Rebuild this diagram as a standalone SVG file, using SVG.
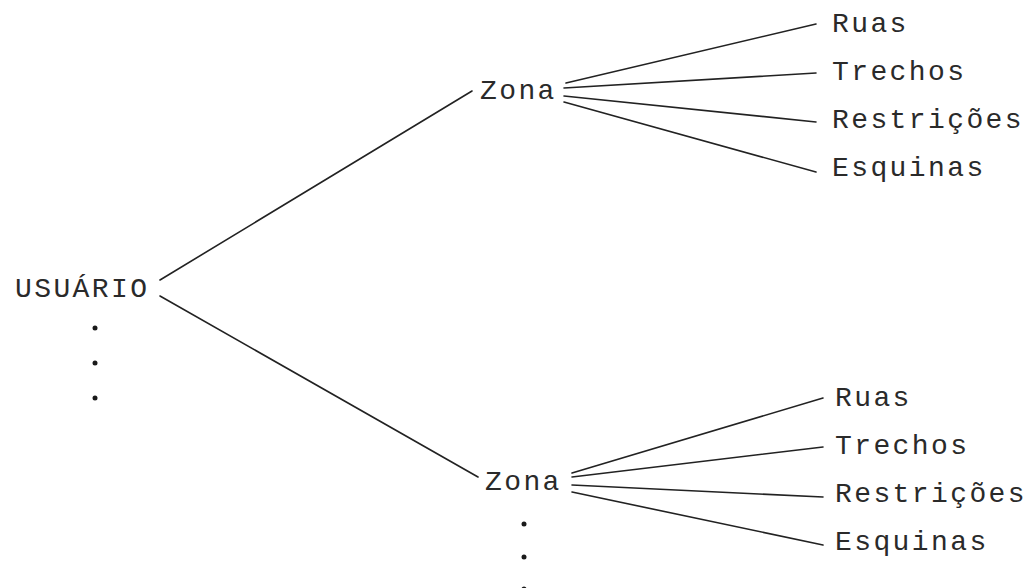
<svg xmlns="http://www.w3.org/2000/svg" width="1029" height="588" viewBox="0 0 1029 588">
<style>
text{font-family:"Liberation Mono","Courier New",monospace;font-size:28px;letter-spacing:2.4px;fill:#2a2a2a}
.c line{stroke:#222;stroke-width:1.6;stroke-linecap:round}
.dot{fill:#1a1a1a}
</style>
<rect width="1029" height="588" fill="#ffffff"/>
<g class="c" id="connectors">
<line x1="160" y1="280" x2="472" y2="91"/>
<line x1="160" y1="296" x2="478" y2="477"/>
<line x1="566" y1="83" x2="816" y2="24"/>
<line x1="564" y1="88" x2="816" y2="73"/>
<line x1="564" y1="96" x2="816" y2="122"/>
<line x1="564" y1="102" x2="816" y2="172"/>
<line x1="572" y1="473" x2="823" y2="398"/>
<line x1="572" y1="477" x2="823" y2="447"/>
<line x1="572" y1="485" x2="823" y2="497"/>
<line x1="572" y1="492" x2="823" y2="545"/>
</g>
<g id="usuario">
<text x="15" y="297">USUÁRIO</text>
<circle class="dot" cx="95" cy="328" r="2.5"/>
<circle class="dot" cx="95" cy="363" r="2.5"/>
<circle class="dot" cx="95" cy="398" r="2.5"/>
</g>
<g id="zona1"><text x="480" y="99">Zona</text></g>
<g id="ruas1"><text x="832" y="32">Ruas</text></g>
<g id="trechos1"><text x="832" y="80">Trechos</text></g>
<g id="restricoes1"><text x="832" y="128">Restrições</text></g>
<g id="esquinas1"><text x="832" y="176">Esquinas</text></g>
<g id="zona2">
<text x="485" y="490">Zona</text>
<circle class="dot" cx="524" cy="524" r="2.5"/>
<circle class="dot" cx="524" cy="557" r="2.5"/>
<circle class="dot" cx="524" cy="589" r="2.5"/>
</g>
<g id="ruas2"><text x="835" y="406">Ruas</text></g>
<g id="trechos2"><text x="835" y="454">Trechos</text></g>
<g id="restricoes2"><text x="835" y="502">Restrições</text></g>
<g id="esquinas2"><text x="835" y="550">Esquinas</text></g>
</svg>
